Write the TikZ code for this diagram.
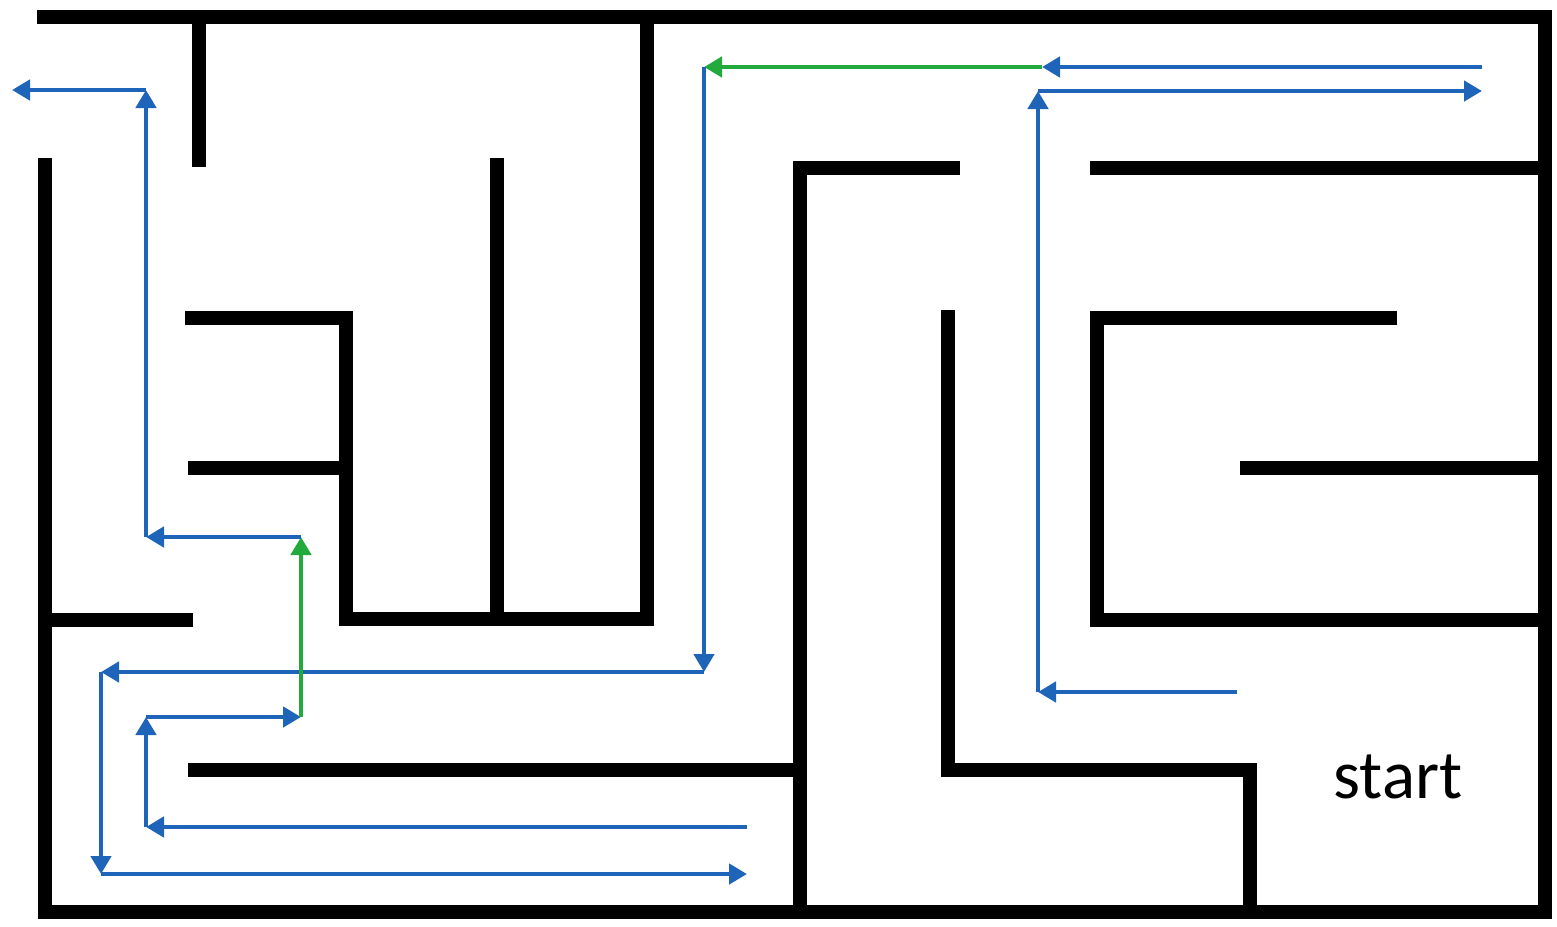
\documentclass[tikz,border=0pt]{standalone}
\usepackage{fontspec}
\setmainfont{Carlito}
\usetikzlibrary{arrows.meta}
\definecolor{pathblue}{RGB}{30,100,185}
\definecolor{pathgreen}{RGB}{35,170,60}
\tikzset{
  wall/.style={line width=14pt, line cap=rect, line join=miter, draw=black},
  route/.style={line width=4.8pt, draw=pathblue, -{Triangle[length=18pt,width=20pt]}},
  detour/.style={route, draw=pathgreen},
  label/.style={font=\fontsize{69}{75}\selectfont, inner sep=0pt}
}
\begin{document}
\begin{tikzpicture}[x=1pt,y=-1pt]
\useasboundingbox (0,0) rectangle (1557,926);
\fill[white] (0,0) rectangle (1557,926);
% walls
\draw[wall] (44,17) -- (1545,17) -- (1545,912) -- (45,912) -- (45,165);
\draw[wall] (199,17) -- (199,160);
\draw[wall] (647,17) -- (647,619) -- (346,619) -- (346,318) -- (192,318);
\draw[wall] (346,468) -- (195,468);
\draw[wall] (497,165) -- (497,612);
\draw[wall] (45,620) -- (186,620);
\draw[wall] (195,770) -- (800,770);
\draw[wall] (800,912) -- (800,168) -- (953,168);
\draw[wall] (948,317) -- (948,770) -- (1250,770) -- (1250,912);
\draw[wall] (1097,168) -- (1545,168);
\draw[wall] (1390,318) -- (1097,318) -- (1097,620) -- (1545,620);
\draw[wall] (1247,468) -- (1545,468);
% route coordinates
\coordinate (a0) at (1482,67);
\coordinate (a1) at (1042,67);
\coordinate (a2) at (704,67);
\coordinate (a3) at (704,672);
\coordinate (a4) at (101,672);
\coordinate (a5) at (101,874);
\coordinate (a6) at (747,874);
\coordinate (b0) at (747,827);
\coordinate (b1) at (146,827);
\coordinate (b2) at (146,717);
\coordinate (b3) at (301,717);
\coordinate (b4) at (301,537);
\coordinate (b5) at (146,537);
\coordinate (b6) at (146,90);
\coordinate (b7) at (12,90);
\coordinate (c0) at (1237,692);
\coordinate (c1) at (1038,692);
\coordinate (c2) at (1038,91);
\coordinate (c3) at (1482,91);
% routes
\draw[route] (a0) -- (a1);
\draw[detour] (a1) -- (a2);
\draw[route] (a2) -- (a3);
\draw[route] (a3) -- (a4);
\draw[route] (a4) -- (a5);
\draw[route] (a5) -- (a6);
\draw[route] (b0) -- (b1);
\draw[route] (b1) -- (b2);
\draw[route] (b2) -- (b3);
\draw[detour] (b3) -- (b4);
\draw[route] (b4) -- (b5);
\draw[route] (b5) -- (b6);
\draw[route] (b6) -- (b7);
\draw[route] (c0) -- (c1);
\draw[route] (c1) -- (c2);
\draw[route] (c2) -- (c3);
\node[label] (start) at (1398,777) {start};
\end{tikzpicture}
\end{document}
